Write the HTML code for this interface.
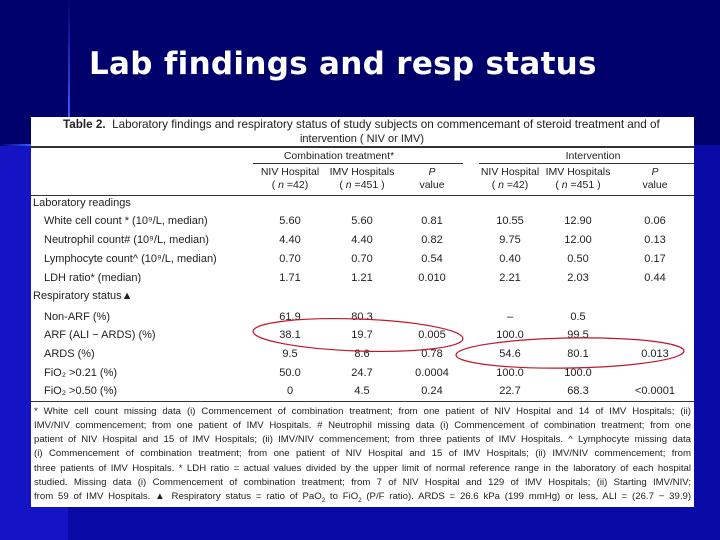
<!DOCTYPE html>
<html><head><meta charset="utf-8"><style>
*{margin:0;padding:0;box-sizing:border-box}
body{width:720px;height:540px;overflow:hidden;background:#00006c;font-family:"Liberation Sans",sans-serif;position:relative}
#lower{position:absolute;left:0;top:145px;width:720px;height:395px;background:#0a0aa6}
#leftstrip{position:absolute;left:0;top:145px;width:68px;height:395px;background:#1414c4}
#vline{position:absolute;left:68px;top:0;width:2px;height:117px;background:linear-gradient(#00006c,#3a5cff)}
#hline{position:absolute;left:0;top:144px;width:31px;height:2px;background:linear-gradient(90deg,#00006c,#3a5cff)}
h1{position:absolute;left:89px;top:46px;color:#fff;font-family:"DejaVu Sans",sans-serif;font-size:31px;font-weight:bold;letter-spacing:0.3px}
#tbl{position:absolute;left:31px;top:117px;width:663px;height:390px;background:#fff;color:#222;font-size:11px}
.t{position:absolute;white-space:nowrap;line-height:13px}
.c{transform:translateX(-50%);text-align:center}
.h{font-size:10.5px}
.ln{position:absolute;height:1px;background:#333}
.fn{position:absolute;left:3px;width:657px;text-align:justify;text-align-last:justify;font-size:9.6px;line-height:12px;white-space:nowrap;overflow:hidden}
</style></head><body>
<div id="lower"></div>
<div id="leftstrip"></div>
<div id="vline"></div>
<div id="hline"></div>
<h1>Lab findings and resp status</h1>
<div id="tbl">
<div class="t" style="left:32px;top:1px;font-size:11.7px"><b>Table 2.</b>&nbsp; Laboratory findings and respiratory status of study subjects on commencemant of steroid treatment and of</div>
<div class="t c" style="left:331px;top:16px">intervention ( NIV or IMV)</div>
<div class="ln" style="left:0;top:29px;width:663px;height:2px"></div>
<div class="t c h" style="left:308px;top:33px">Combination treatment*</div>
<div class="t c h" style="left:562px;top:33px">Intervention</div>
<div class="ln" style="left:222px;top:46px;width:210px"></div>
<div class="ln" style="left:448px;top:46px;width:215px"></div>
<div class="t c h" style="left:259px;top:49px">NIV Hospital<br>( <i>n</i> =42)</div>
<div class="t c h" style="left:331px;top:49px">IMV Hospitals<br>( <i>n</i> =451 )</div>
<div class="t c h" style="left:401px;top:49px"><i>P</i><br>value</div>
<div class="t c h" style="left:479px;top:49px">NIV Hospital<br>( <i>n</i> =42)</div>
<div class="t c h" style="left:547px;top:49px">IMV Hospitals<br>( <i>n</i> =451 )</div>
<div class="t c h" style="left:624px;top:49px"><i>P</i><br>value</div>
<div class="ln" style="left:0;top:78px;width:663px"></div>
<div id="rows"></div>
<div class="ln" style="left:0;top:284px;width:663px"></div>
<div class="fn" style="top:289px">* White cell count missing data (i) Commencement of combination treatment; from one patient of NIV Hospital and 14 of IMV Hospitals; (ii)</div>
<div class="fn" style="top:303px">IMV/NIV commencement; from one patient of IMV Hospitals. # Neutrophil missing data (i) Commencement of combination treatment; from one</div>
<div class="fn" style="top:317px">patient of NIV Hospital and 15 of IMV Hospitals; (ii) IMV/NIV commencement; from three patients of IMV Hospitals. ^ Lymphocyte missing data</div>
<div class="fn" style="top:331px">(i) Commencement of combination treatment; from one patient of NIV Hospital and 15 of IMV Hospitals; (ii) IMV/NIV commencement; from</div>
<div class="fn" style="top:346px">three patients of IMV Hospitals. * LDH ratio = actual values divided by the upper limit of normal reference range in the laboratory of each hospital</div>
<div class="fn" style="top:360px">studied. Missing data (i) Commencement of combination treatment; from 7 of NIV Hospital and 129 of IMV Hospitals; (ii) Starting IMV/NIV;</div>
<div class="fn" style="top:374px">from 59 of IMV Hospitals. ▲ Respiratory status = ratio of PaO<sub style="font-size:6px">2</sub> to FiO<sub style="font-size:6px">2</sub> (P/F ratio). ARDS = 26.6 kPa (199 mmHg) or less, ALI = (26.7 − 39.9)</div>
</div>
<svg width="720" height="540" style="position:absolute;left:0;top:0">
<ellipse cx="358" cy="335" rx="105" ry="16" fill="none" stroke="#c0182a" stroke-width="1.2" transform="rotate(2 358 335)"/>
<ellipse cx="570" cy="353" rx="114" ry="15" fill="none" stroke="#c0182a" stroke-width="1.2" transform="rotate(-1 570 353)"/>
</svg>
<script>
const rowLabels=["Laboratory readings","White cell count * (10⁹/L, median)","Neutrophil count# (10⁹/L, median)","Lymphocyte count^ (10⁹/L, median)","LDH ratio* (median)","Respiratory status▲","Non-ARF (%)","ARF (ALI − ARDS) (%)","ARDS (%)","FiO₂ >0.21 (%)","FiO₂ >0.50 (%)"];
const rowTops=[80,98,117,136,155,173,194,212,231,250,268];
const colNiv1=["","5.60","4.40","0.70","1.71","","61.9","38.1","9.5","50.0","0"];
const colImv1=["","5.60","4.40","0.70","1.21","","80.3","19.7","8.6","24.7","4.5"];
const colP1=["","0.81","0.82","0.54","0.010","","","0.005","0.78","0.0004","0.24"];
const colNiv2=["","10.55","9.75","0.40","2.21","","–","100.0","54.6","100.0","22.7"];
const colImv2=["","12.90","12.00","0.50","2.03","","0.5","99.5","80.1","100.0","68.3"];
const colP2=["","0.06","0.13","0.17","0.44","","","","0.013","","<0.0001"];
const cols=[[colNiv1,259],[colImv1,331],[colP1,401],[colNiv2,479],[colImv2,547],[colP2,624]];
const R=document.getElementById('rows');
rowLabels.forEach((lab,i)=>{
  const d=document.createElement('div');
  d.className='t';
  const sec=(i===0||i===5);
  d.style.left=(sec?2:13)+'px';d.style.top=rowTops[i]+'px';
  d.textContent=lab;
  
  
  R.appendChild(d);
  cols.forEach(([arr,x])=>{
    if(!arr[i])return;
    const c=document.createElement('div');
    c.className='t c';
    c.style.left=x+'px';c.style.top=rowTops[i]+'px';
    c.textContent=arr[i];
    
    
    R.appendChild(c);
  });
});
</script>
</body></html>
